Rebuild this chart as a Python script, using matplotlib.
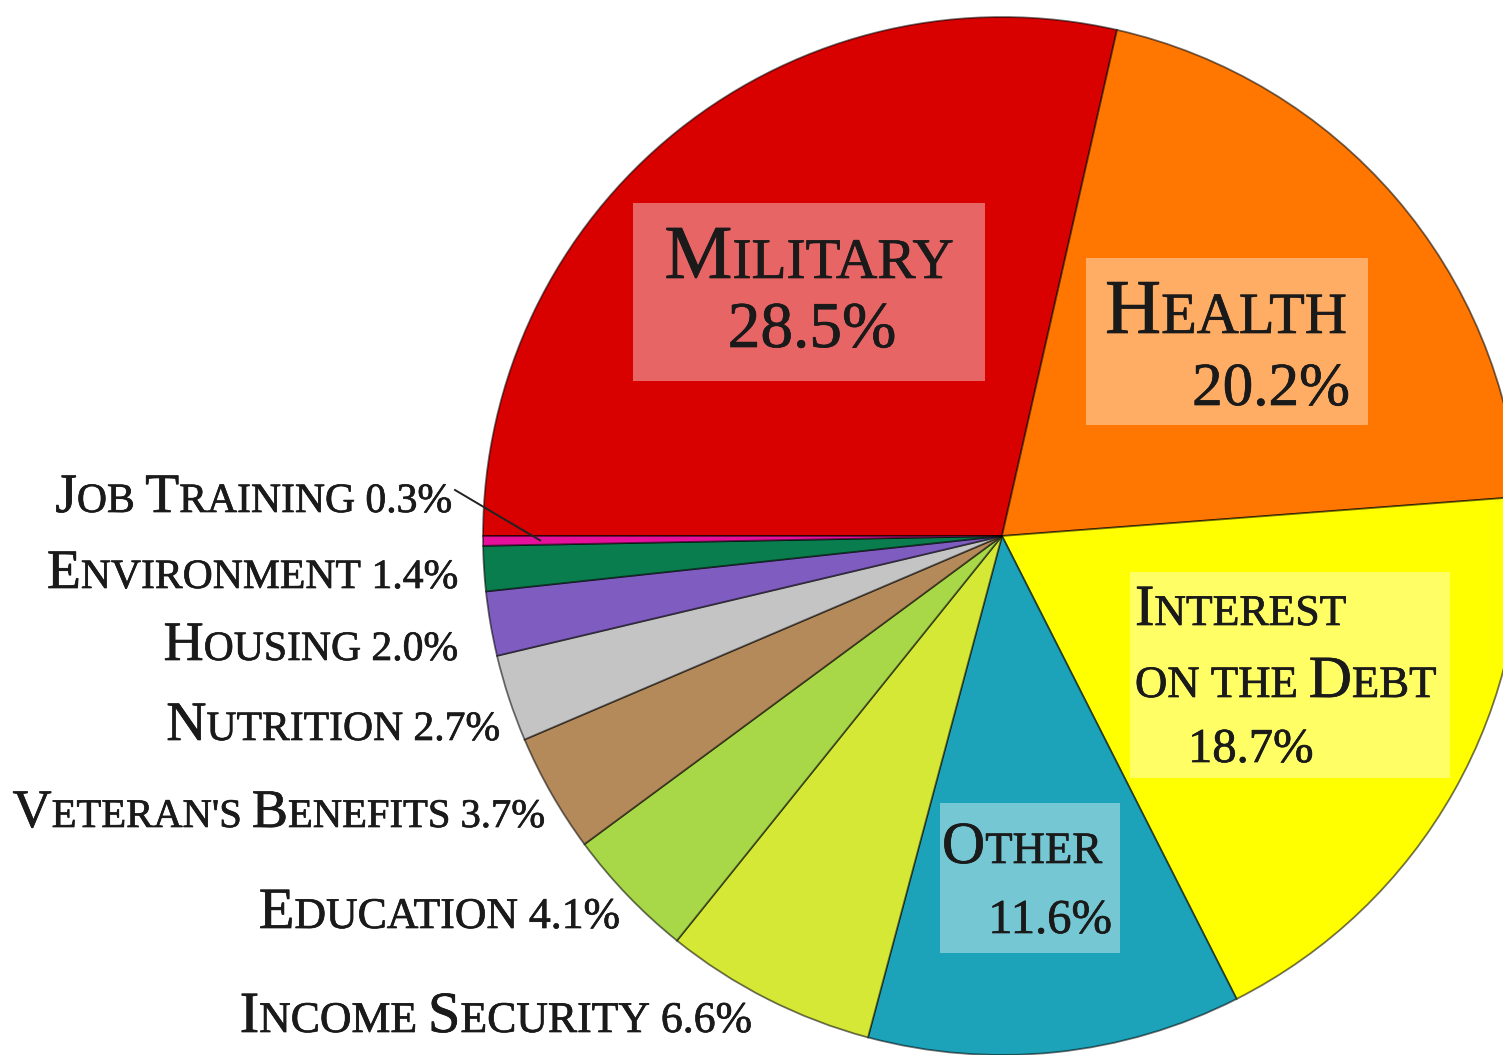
import matplotlib
matplotlib.use('Agg')
import numpy as np
import matplotlib.pyplot as plt
import matplotlib.patheffects as pe
from matplotlib.patches import Rectangle

# budget shares, clockwise from the left edge of the pie
categories = ['Military', 'Health', 'Interest on the Debt', 'Other',
              'Income Security', 'Education', "Veteran's Benefits",
              'Nutrition', 'Housing', 'Environment', 'Job Training']
shares = [28.5, 20.2, 18.7, 11.6, 6.6, 4.1, 3.7, 2.7, 2.0, 1.4, 0.3]
colors = ['#d90000', '#ff7700', '#ffff00', '#1ca3b9', '#d6e836', '#a8d848',
          '#b58a5a', '#c4c4c4', '#7f5cbf', '#0a7d4e', '#e6109c']

FONT = 'Liberation Serif'
INK = '#1a1a1a'
W, H = 1503, 1055

fig = plt.figure(figsize=(W / 100, H / 100), dpi=100)
ax = fig.add_axes([0, 0, 1, 1])
renderer = fig.canvas.get_renderer()

cx, cy, R = 1002, 536, 519
# y axis runs downward (pixel style), so counterclock=True draws clockwise
wedges, _ = ax.pie(shares, colors=colors, startangle=180, counterclock=True,
                   center=(cx, cy), radius=R,
                   wedgeprops=dict(edgecolor=(0, 0, 0, 0.55), linewidth=1.3))
ax.set_xlim(0, W)
ax.set_ylim(H, 0)
ax.set_axis_off()

heavy = [pe.withStroke(linewidth=0.5, foreground=INK)]


def small_caps(x, y, s, size, ratio=0.75, ha='left'):
    """Fake small caps: capitals at size, everything else upper-cased smaller."""
    runs = []
    for ch in s:
        if ch == ' ':
            runs.append([' ', size * ratio])
            continue
        sz = size if ch.isupper() else size * ratio
        if runs and runs[-1][0] != ' ' and runs[-1][1] == sz:
            runs[-1][0] += ch.upper()
        else:
            runs.append([ch.upper(), sz])
    pieces, widths = [], []
    for txt, sz in runs:
        if txt == ' ':
            pieces.append(None)
            widths.append(0.25 * sz * 100 / 72)
            continue
        t = ax.text(0, y, txt, fontsize=sz, family=FONT, color=INK,
                    va='baseline', ha='left', path_effects=heavy)
        pieces.append(t)
        widths.append(t.get_window_extent(renderer).width)
    total = sum(widths)
    x0 = {'left': x, 'right': x - total, 'center': x - total / 2}[ha]
    for t, w in zip(pieces, widths):
        if t is not None:
            t.set_x(x0)
        x0 += w
    return x0


def pct(v):
    return f'{v:.1f}%'


# highlighted boxes for the large slices
boxes = {
    'Military': (633, 203, 352, 178),
    'Health': (1086, 258, 282, 167),
    'Interest on the Debt': (1130, 572, 320, 206),
    'Other': (940, 803, 180, 150),
}
for name, (bx, by, bw, bh) in boxes.items():
    ax.add_patch(Rectangle((bx, by), bw, bh, facecolor='white', alpha=0.4,
                           edgecolor='none', zorder=3))

v = dict(zip(categories, shares))
small_caps(809, 278, 'Military', 55, ha='center')
small_caps(812, 347, pct(v['Military']), 47, ratio=1, ha='center')

small_caps(1105, 333, 'Health', 56)
small_caps(1350, 405, pct(v['Health']), 44, ratio=1, ha='right')

small_caps(1135, 625, 'Interest', 42)
small_caps(1135, 697, 'on the Debt', 43)
small_caps(1188, 762, pct(v['Interest on the Debt']), 35, ratio=1)

small_caps(942, 863, 'Other', 43)
small_caps(1112, 933, pct(v['Other']), 35, ratio=1, ha='right')

# outside labels for the small slices: (right edge, baseline, size)
outside = {
    'Job Training': (452, 512, 40),
    'Environment': (458, 588, 40),
    'Housing': (458, 660, 40),
    'Nutrition': (500, 740, 40),
    "Veteran's Benefits": (545, 827, 39),
    'Education': (620, 928, 42),
    'Income Security': (752, 1032, 42),
}
for name, (rx, by, sz) in outside.items():
    small_caps(rx, by, f'{name} {pct(v[name])}', sz, ha='right')

# leader line into the thin job training slice
wj = wedges[categories.index('Job Training')]
mid = np.deg2rad((wj.theta1 + wj.theta2) / 2)
ax.plot([455, cx + 0.89 * R * np.cos(mid)], [490, cy + 0.89 * R * np.sin(mid)],
        color='#222222', lw=1.4, zorder=4)

fig.savefig('out.png', dpi=100)
